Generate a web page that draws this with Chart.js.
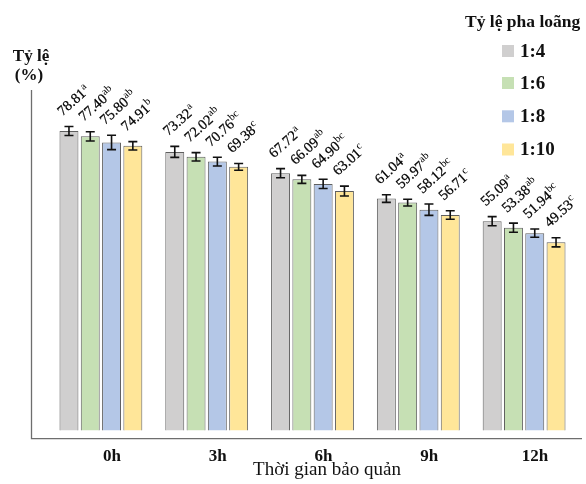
<!DOCTYPE html>
<html>
<head>
<meta charset="utf-8">
<script src="https://cdn.jsdelivr.net/npm/chart.js@4/dist/chart.umd.min.js"></script>
<style>
  html, body { margin: 0; padding: 0; background: #fff; }
  #wrap { width: 586px; height: 484px; }
</style>
</head>
<body>
<div id="wrap"><canvas id="c" width="586" height="484"></canvas></div>
<script>
// Storage time groups
const categories = ['0h', '3h', '6h', '9h', '12h'];
// Dilution ratios (series)
const seriesNames = ['1:4', '1:6', '1:8', '1:10'];

// Mean values (%)
const ratio14 = [78.81, 73.32, 67.72, 61.04, 55.09];
const ratio16 = [77.40, 72.02, 66.09, 59.97, 53.38];
const ratio18 = [75.80, 70.76, 64.90, 58.12, 51.94];
const ratio110 = [74.91, 69.38, 63.01, 56.71, 49.53];

// Standard deviations
const err14 = [1.2, 1.45, 1.2, 1.0, 1.2];
const err16 = [1.2, 1.1, 1.05, 0.9, 1.2];
const err18 = [1.9, 1.15, 1.2, 1.5, 1.1];
const err110 = [1.1, 0.9, 1.3, 1.1, 1.2];

// Significance letters
const sig14 = ['a', 'a', 'a', 'a', 'a'];
const sig16 = ['ab', 'ab', 'ab', 'ab', 'ab'];
const sig18 = ['ab', 'bc', 'bc', 'bc', 'bc'];
const sig110 = ['b', 'c', 'c', 'c', 'c'];

const yTitleLines = ['Tỷ lệ', '(%)'];
const xTitle = 'Thời gian bảo quản';
const legendTitle = 'Tỷ lệ pha loãng';

const fills = ['#d0cfcf', '#c6e0b4', '#b4c7e7', '#ffe699'];
const SERIF = '"Liberation Serif", "DejaVu Serif", serif';

const values = [ratio14, ratio16, ratio18, ratio110];
const errors = [err14, err16, err18, err110];
const letters = [sig14, sig16, sig18, sig110];

const datasets = seriesNames.map((name, i) => ({
  label: name,
  data: values[i],
  errors: errors[i],
  letters: letters[i],
  backgroundColor: fills[i],
  borderColor: '#5f5f5f',
  borderWidth: 1,
  borderSkipped: 'bottom',
  categoryPercentage: 0.805,
  barPercentage: 0.89
}));

// Error bars and rotated value labels with superscript letters
const barDecor = {
  id: 'barDecor',
  afterDatasetsDraw(chart) {
    const ctx = chart.ctx;
    const y = chart.scales.y;
    chart.data.datasets.forEach((ds, i) => {
      const meta = chart.getDatasetMeta(i);
      meta.data.forEach((bar, j) => {
        const v = ds.data[j], e = ds.errors[j];
        const yTop = y.getPixelForValue(v + e);
        const yBot = y.getPixelForValue(v - e);
        ctx.save();
        ctx.strokeStyle = '#111';
        ctx.lineWidth = 1.6;
        ctx.beginPath();
        ctx.moveTo(bar.x, yTop); ctx.lineTo(bar.x, yBot);
        ctx.moveTo(bar.x - 4.5, yTop); ctx.lineTo(bar.x + 4.5, yTop);
        ctx.moveTo(bar.x - 4.5, yBot); ctx.lineTo(bar.x + 4.5, yBot);
        ctx.stroke();
        ctx.restore();

        // value label
        const x0 = bar.x - bar.width / 2 + 3;
        const y0 = yTop - 10;
        ctx.save();
        ctx.translate(x0, y0);
        ctx.rotate(-42 * Math.PI / 180);
        ctx.fillStyle = '#000';
        ctx.strokeStyle = '#000';
        ctx.lineWidth = 0.25;
        ctx.textAlign = 'left';
        ctx.textBaseline = 'alphabetic';
        ctx.font = '14.5px ' + SERIF;
        const txt = v.toFixed(2);
        ctx.fillText(txt, 0, 0);
        ctx.strokeText(txt, 0, 0);
        const w = ctx.measureText(txt).width;
        ctx.font = '10.5px ' + SERIF;
        ctx.fillText(ds.letters[j], w + 0.5, -5.5);
        ctx.restore();
      });
    });
  },
  afterDraw(chart) {
    const ctx = chart.ctx;
    const area = chart.chartArea;
    ctx.save();
    // axis lines
    ctx.strokeStyle = '#6e6e6e';
    ctx.lineWidth = 1.3;
    ctx.beginPath();
    ctx.moveTo(31.5, area.top);
    ctx.lineTo(31.5, area.bottom);
    ctx.lineTo(582, area.bottom);
    ctx.stroke();

    // y title
    ctx.fillStyle = '#111';
    ctx.textAlign = 'center';
    ctx.textBaseline = 'alphabetic';
    ctx.font = 'bold 17px ' + SERIF;
    ctx.fillText(yTitleLines[0], 31, 61);
    ctx.fillText(yTitleLines[1], 29, 80);

    // x title
    ctx.font = '19px ' + SERIF;
    ctx.fillText(xTitle, 327, 475);

    // legend
    ctx.textAlign = 'left';
    ctx.font = 'bold 17.5px ' + SERIF;
    ctx.fillText(legendTitle, 465, 27);
    const ys = [51, 83, 116.3, 149.5];
    chart.data.datasets.forEach((ds, i) => {
      ctx.fillStyle = ds.backgroundColor;
      ctx.fillRect(502, ys[i] - 6, 12, 12);
      ctx.fillStyle = '#111';
      ctx.font = 'bold 19px ' + SERIF;
      ctx.textBaseline = 'middle';
      ctx.fillText(ds.label, 520, ys[i] + 1);
    });
    ctx.restore();
  }
};

new Chart(document.getElementById('c'), {
  type: 'bar',
  data: { labels: categories, datasets },
  options: {
    responsive: false,
    animation: false,
    devicePixelRatio: 1,
    layout: { padding: { left: 48, right: 9, top: 90, bottom: 9 } },
    plugins: { legend: { display: false }, tooltip: { enabled: false } },
    scales: {
      x: {
        grid: { display: false, drawTicks: false },
        border: { display: false },
        ticks: {
          color: '#111',
          font: { family: SERIF, size: 17, weight: 'bold' },
          padding: 8,
          labelOffset: 11
        }
      },
      y: {
        display: false,
        min: -2.12,
        max: 89.6
      }
    }
  },
  plugins: [barDecor]
});
</script>
</body>
</html>
